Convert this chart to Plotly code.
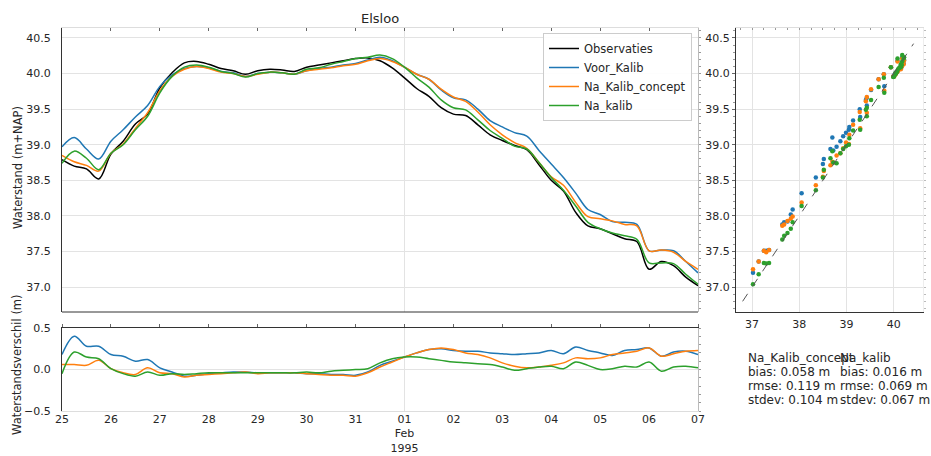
import pandas as pd
import plotly.graph_objects as go

# ---------------- data (6-hourly, starting 1995-01-25 00:00) ----------------
start = "1995-01-25"
step = "6h"
end = "1995-02-07"
month_start = "1995-02-01"

obs = [38.79, 38.70, 38.66, 38.52,
       38.87, 39.05, 39.29, 39.43,
       39.80, 40.01, 40.15, 40.17,
       40.13, 40.07, 40.04, 39.99,
       40.04, 40.06, 40.05, 40.03,
       40.09, 40.12, 40.15, 40.18,
       40.21, 40.22, 40.18, 40.08,
       39.94, 39.79, 39.68, 39.52,
       39.43, 39.41, 39.28, 39.14,
       39.06, 38.99, 38.93, 38.72,
       38.50, 38.35, 38.05, 37.86,
       37.82, 37.75, 37.68, 37.64,
       37.25, 37.36, 37.30, 37.14,
       37.02]

diff_voor = [0.18, 0.40, 0.28, 0.28,
             0.18, 0.16, 0.10, 0.12,
             0.02, -0.03, -0.08, -0.07,
             -0.05, -0.04, -0.03, -0.03,
             -0.04, -0.04, -0.04, -0.04,
             -0.05, -0.05, -0.06, -0.06,
             -0.07, -0.03, 0.05, 0.10,
             0.15, 0.20, 0.24, 0.25,
             0.23, 0.22, 0.22, 0.20,
             0.19, 0.18, 0.19, 0.20,
             0.23, 0.19, 0.27, 0.23,
             0.20, 0.17, 0.23, 0.24,
             0.26, 0.16, 0.21, 0.22,
             0.18]

diff_concept = [0.06, 0.06, 0.05, 0.11,
                0.01, -0.04, -0.06, 0.02,
                -0.04, -0.05, -0.09, -0.07,
                -0.06, -0.05, -0.04, -0.03,
                -0.05, -0.04, -0.04, -0.04,
                -0.05, -0.06, -0.07, -0.07,
                -0.08, -0.04, 0.03, 0.09,
                0.15, 0.20, 0.24, 0.26,
                0.24, 0.20, 0.18, 0.14,
                0.08, 0.04, 0.02, 0.03,
                0.05, 0.08, 0.14, 0.13,
                0.14, 0.18, 0.20, 0.22,
                0.26, 0.16, 0.19, 0.22,
                0.23]

diff_kalib = [-0.05, 0.21, 0.15, 0.13,
              0.01, -0.05, -0.08, -0.03,
              -0.07, -0.05, -0.06, -0.05,
              -0.04, -0.04, -0.04, -0.04,
              -0.04, -0.04, -0.04, -0.04,
              -0.03, -0.04, -0.02, -0.01,
              0.00, 0.01, 0.08, 0.13,
              0.15, 0.15, 0.13, 0.11,
              0.09, 0.08, 0.07, 0.06,
              0.03, -0.01, 0.01, 0.03,
              0.04, 0.01, 0.09, 0.05,
              0.00, 0.01, 0.04, 0.03,
              0.09, -0.02, 0.03, 0.04,
              0.02]

series_names = ["Observaties", "Voor_Kalib", "Na_Kalib_concept", "Na_kalib"]
series_colors = ["#000000", "#1f77b4", "#ff7f0e", "#2ca02c"]

stats_concept = ["Na_Kalib_concept", "bias: 0.058 m", "rmse: 0.119 m", "stdev: 0.104 m"]
stats_kalib = ["Na_kalib", "bias: 0.016 m", "rmse: 0.069 m", "stdev: 0.067 m"]

level_ticks = [37.0, 37.5, 38.0, 38.5, 39.0, 39.5, 40.0, 40.5]
level_range = [36.65, 40.64]
diff_ticks = [-0.5, 0.0, 0.5]
diff_range = [-0.5, 0.5]
scatter_xticks = [37, 38, 39, 40]
scatter_xrange = [36.66, 40.62]
diag_limits = [36.8, 40.42]

title_text = "Elsloo"
ylabel_top = "Waterstand (m+NAP)"
ylabel_bottom = "Waterstandsverschil (m)"

# ---------------- derived ----------------
times = pd.date_range(start, periods=len(obs), freq=step)
diffs = [diff_voor, diff_concept, diff_kalib]
models = [[o + d for o, d in zip(obs, dd)] for dd in diffs]

day_ticks = pd.date_range(start, end, freq="D")
day_text = [f"{t.day:02d}<br>{t.strftime('%b')}<br>{t.year}" if t.day == 1 else f"{t.day:02d}"
            for t in day_ticks]

FONT = "DejaVu Sans"
TXT = "#262626"
GRID = "#e3e3e3"
DARK = "#333333"

fig = go.Figure()

# main panel
fig.add_trace(go.Scatter(x=times, y=obs, name=series_names[0], mode="lines",
                         line=dict(color=series_colors[0], width=1.5, shape="spline"),
                         xaxis="x", yaxis="y"))
for name, col, m in zip(series_names[1:], series_colors[1:], models):
    fig.add_trace(go.Scatter(x=times, y=m, name=name, mode="lines",
                             line=dict(color=col, width=1.5, shape="spline"),
                             xaxis="x", yaxis="y"))

# difference panel
for name, col, dd in zip(series_names[1:], series_colors[1:], diffs):
    fig.add_trace(go.Scatter(x=times, y=dd, name=name, mode="lines", showlegend=False,
                             line=dict(color=col, width=1.5, shape="spline"),
                             xaxis="x2", yaxis="y2"))

# scatter panel
for name, col, m in zip(series_names[1:], series_colors[1:], models):
    fig.add_trace(go.Scatter(x=obs, y=m, name=name, mode="markers", showlegend=False,
                             marker=dict(color=col, size=4.5, line=dict(width=0)),
                             xaxis="x3", yaxis="y3"))
fig.add_trace(go.Scatter(x=diag_limits, y=diag_limits, mode="lines", showlegend=False,
                         line=dict(color="#555555", width=1, dash="dash"),
                         xaxis="x3", yaxis="y3"))

# empty traces so that the decorative overlay axes get drawn
for xa, ya in (("x", "y4"), ("x2", "y5"), ("x5", "y2"), ("x6", "y2"),
               ("x7", "y3"), ("x3", "y7")):
    fig.add_trace(go.Scatter(x=[], y=[], mode="lines", showlegend=False,
                             hoverinfo="skip", xaxis=xa, yaxis=ya))

XD = [62 / 931, 698 / 931]
YD_MAIN = [1 - 312 / 456, 1 - 28 / 456]
YD_LOW = [1 - 411 / 456, 1 - 328 / 456]
XD_SC = [736 / 931, 923 / 931]

tickfont = dict(family=FONT, size=11, color=TXT)
day_ms = 86400000

fig.update_layout(
    template="none",
    width=931, height=456,
    margin=dict(l=0, r=0, t=0, b=0, pad=0, autoexpand=False),
    paper_bgcolor="white", plot_bgcolor="white",
    font=dict(family=FONT, size=11, color=TXT),
    showlegend=True,
    legend=dict(x=543 / 931, y=1 - 33 / 456, xanchor="left", yanchor="top",
                bgcolor="rgba(255,255,255,0.9)", bordercolor="#cccccc", borderwidth=1,
                font=dict(family=FONT, size=11.5, color=TXT), tracegroupgap=0),
    # main
    xaxis=dict(domain=XD, anchor="y", type="date", range=[start, end], side="top",
               tickvals=[month_start], showticklabels=False, ticks="inside", ticklen=3,
               tickcolor="#666666", showgrid=True, gridcolor=GRID, showline=True,
               linecolor="#dddddd", zeroline=False, automargin=False,
               minor=dict(dtick=day_ms, tick0=start, ticks="inside", ticklen=3,
                          tickcolor="#666666", showgrid=False)),
    yaxis=dict(domain=YD_MAIN, anchor="x", range=level_range, tickvals=level_ticks,
               tickformat=".1f", showgrid=True, gridcolor=GRID, showline=True,
               linecolor=DARK, ticks="", ticklabelstandoff=8, zeroline=False,
               tickfont=tickfont, automargin=False),
    yaxis4=dict(overlaying="y", anchor="x", side="right", range=level_range,
                showticklabels=False, showgrid=False, zeroline=False, showline=True,
                linecolor="#bbbbbb", ticks="outside", ticklen=2, tickcolor="#999999",
                dtick=0.1, tick0=0, automargin=False),
    # difference
    xaxis2=dict(domain=XD, anchor="y2", type="date", range=[start, end],
                tickvals=[month_start], showticklabels=False, ticks="", showgrid=True,
                gridcolor=GRID, showline=True, linecolor="#dddddd", zeroline=False,
                automargin=False),
    xaxis5=dict(overlaying="x2", anchor="y2", side="bottom", type="date", range=[start, end],
                tickvals=list(day_ticks), ticktext=day_text, ticks="", showgrid=False,
                showline=False, zeroline=False, tickfont=tickfont, automargin=False),
    xaxis6=dict(overlaying="x2", anchor="y2", side="top", type="date", range=[start, end],
                showticklabels=False, showgrid=False, zeroline=False, showline=True,
                linecolor=DARK, ticks="outside", ticklen=3, tickcolor="#666666",
                dtick=day_ms, tick0=start, automargin=False),
    yaxis2=dict(domain=YD_LOW, anchor="x2", range=diff_range, tickvals=diff_ticks,
                tickformat=".1f", showgrid=True, gridcolor=GRID, showline=True,
                linecolor=DARK, ticks="", ticklabelstandoff=8, zeroline=False,
                tickfont=tickfont, automargin=False),
    yaxis5=dict(overlaying="y2", anchor="x2", side="right", range=diff_range,
                showticklabels=False, showgrid=False, zeroline=False, showline=True,
                linecolor="#bbbbbb", ticks="outside", ticklen=2, tickcolor="#999999",
                dtick=0.1, tick0=0, automargin=False),
    # scatter
    xaxis3=dict(domain=XD_SC, anchor="y3", range=scatter_xrange, tickvals=scatter_xticks,
                showgrid=True, gridcolor=GRID, showline=True, linecolor=DARK, ticks="",
                zeroline=False, tickfont=tickfont, automargin=False, ticklabelstandoff=2),
    yaxis3=dict(domain=YD_MAIN, anchor="x3", range=level_range, tickvals=level_ticks,
                tickformat=".1f", showgrid=True, gridcolor=GRID, showline=True,
                linecolor=DARK, ticks="outside", ticklen=3, tickcolor="#666666",
                zeroline=False, tickfont=tickfont, automargin=False,
                minor=dict(dtick=0.1, tick0=0, ticks="outside", ticklen=2,
                           tickcolor="#999999", showgrid=False)),
    xaxis7=dict(overlaying="x3", anchor="y3", side="top", range=scatter_xrange,
                showticklabels=False, showgrid=False, zeroline=False, showline=True,
                linecolor="#dddddd", ticks="inside", ticklen=2, tickcolor="#999999",
                dtick=0.25, tick0=0, automargin=False),
    yaxis7=dict(overlaying="y3", anchor="x3", side="right", range=level_range,
                showticklabels=False, showgrid=False, zeroline=False, showline=True,
                linecolor="#eeeeee", ticks="outside", ticklen=2, tickcolor="#bbbbbb",
                dtick=0.1, tick0=0, automargin=False),
)

# frame line at bottom of main panel
fig.add_shape(type="line", xref="x domain", yref="y domain", x0=0, x1=1, y0=0, y1=0,
              line=dict(color=DARK, width=1))

ann = [
    dict(text=title_text, x=380 / 931, y=1 - 18 / 456, xref="paper", yref="paper",
         xanchor="center", yanchor="middle",
         showarrow=False, font=dict(family=FONT, size=13, color=TXT)),
    dict(text=ylabel_top, x=18 / 931, y=1 - 168 / 456, xref="paper", yref="paper",
         xanchor="center", yanchor="middle",
         textangle=-90, showarrow=False, font=dict(family=FONT, size=11.5, color=TXT)),
    dict(text=ylabel_bottom, x=17 / 931, y=1 - 365 / 456, xref="paper", yref="paper",
         xanchor="center", yanchor="middle",
         textangle=-90, showarrow=False, font=dict(family=FONT, size=11.5, color=TXT)),
]
line_y = [358, 372, 386, 400]
for col_x, lines in ((746, stats_concept), (838, stats_kalib)):
    for yy, t in zip(line_y, lines):
        ann.append(dict(text=t, x=col_x / 931, y=1 - yy / 456, xref="paper", yref="paper",
                        xanchor="left", yanchor="middle", showarrow=False,
                        font=dict(family=FONT, size=12, color=TXT)))
fig.update_layout(annotations=ann)

fig.write_html("out.html")
